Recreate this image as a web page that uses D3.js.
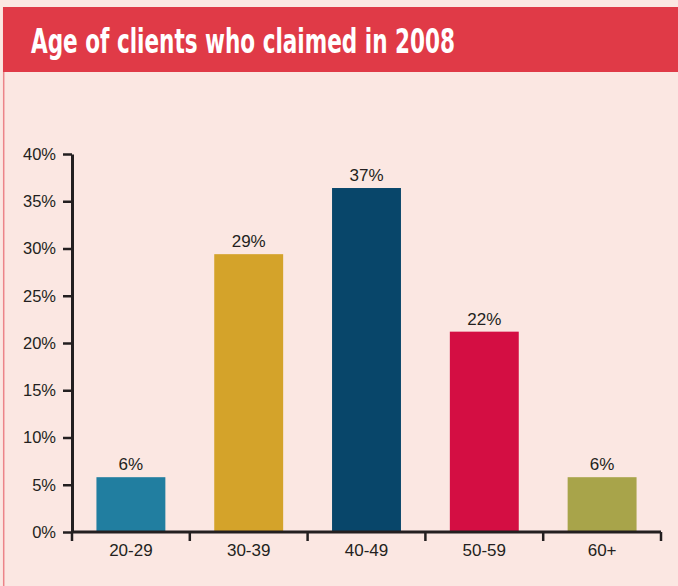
<!DOCTYPE html>
<html>
<head>
<meta charset="utf-8">
<script src="https://cdn.jsdelivr.net/npm/d3@7"></script>
<style>
  html, body { margin: 0; padding: 0; background: #fbe7e2; }
  svg { display: block; }
  .tick text { font-family: "Liberation Sans", Arial, sans-serif; font-size: 16.5px; fill: #231f20; }
</style>
</head>
<body>
<svg width="678" height="586"></svg>
<script>
// chart data
var ageGroups = ['20-29', '30-39', '40-49', '50-59', '60+'];
var shares = [5.8, 29.4, 36.4, 21.2, 5.8];
var shareLabels = ['6%', '29%', '37%', '22%', '6%'];
var barColors = ['#217ea0', '#d4a32a', '#08466a', '#d40e43', '#a8a44a'];
var yTicks = [0, 5, 10, 15, 20, 25, 30, 35, 40];
var title = 'Age of clients who claimed in 2008';

var svg = d3.select('svg');
var svgWidth = +svg.attr('width');
var svgHeight = +svg.attr('height');

// background and title band
svg.append('rect')
    .attr('width', svgWidth)
    .attr('height', svgHeight)
    .attr('fill', '#fbe7e2');
svg.append('line')
    .attr('x1', 3.7).attr('x2', 3.7)
    .attr('y1', 7).attr('y2', svgHeight)
    .attr('stroke', '#ec8489')
    .attr('stroke-width', 1.5);
svg.append('rect')
    .attr('x', 3)
    .attr('y', 7)
    .attr('width', svgWidth - 3)
    .attr('height', 65)
    .attr('fill', '#e03a47');
svg.append('text')
    .attr('x', 31)
    .attr('y', 53)
    .attr('fill', '#ffffff')
    .attr('font-family', '"DejaVu Sans Condensed", "DejaVu Sans", sans-serif')
    .attr('font-stretch', 'condensed')
    .attr('font-weight', 'bold')
    .attr('font-size', 33)
    .attr('textLength', 424)
    .attr('lengthAdjust', 'spacingAndGlyphs')
    .text(title);

var padding = {t: 154, r: 17, b: 54, l: 72};
var chartWidth = svgWidth - padding.l - padding.r;
var chartHeight = svgHeight - padding.t - padding.b;

var chartG = svg.append('g')
    .attr('transform', 'translate(' + [padding.l, padding.t] + ')');

var xScale = d3.scaleBand()
    .domain(ageGroups)
    .range([0, chartWidth])
    .paddingInner(0.415)
    .paddingOuter(0.2075);
var yScale = d3.scaleLinear()
    .domain([0, 40])
    .range([chartHeight, 0]);

// bars
chartG.selectAll('.bar')
    .data(ageGroups)
    .enter()
    .append('rect')
    .attr('class', 'bar')
    .attr('x', d => xScale(d))
    .attr('y', (d, i) => yScale(shares[i]))
    .attr('width', xScale.bandwidth())
    .attr('height', (d, i) => chartHeight - yScale(shares[i]))
    .attr('fill', (d, i) => barColors[i]);

// value labels
chartG.selectAll('.value')
    .data(ageGroups)
    .enter()
    .append('text')
    .attr('class', 'value')
    .attr('x', d => xScale(d) + xScale.bandwidth() / 2)
    .attr('y', (d, i) => yScale(shares[i]) - 7)
    .attr('text-anchor', 'middle')
    .attr('font-family', '"Liberation Sans", Arial, sans-serif')
    .attr('font-size', 17)
    .attr('fill', '#231f20')
    .text((d, i) => shareLabels[i]);

// y axis
var yAxis = d3.axisLeft(yScale)
    .tickValues(yTicks)
    .tickFormat(d => d + '%')
    .tickSize(9)
    .tickSizeOuter(0)
    .tickPadding(7);
var yAxisG = chartG.append('g')
    .attr('class', 'y axis')
    .call(yAxis);

// x axis: ticks sit on band boundaries, labels at band centres
var xEdges = ageGroups.map(d => xScale(d) - xScale.step() * xScale.paddingInner() / 2)
    .concat([chartWidth]);
var xAxisG = chartG.append('g')
    .attr('class', 'x axis')
    .attr('transform', 'translate(0,' + chartHeight + ')');
xAxisG.append('line')
    .attr('x1', 0).attr('x2', chartWidth)
    .attr('stroke', '#231f20')
    .attr('stroke-width', 3);
xAxisG.selectAll('.xtick')
    .data(xEdges)
    .enter()
    .append('line')
    .attr('class', 'xtick')
    .attr('x1', d => d).attr('x2', d => d)
    .attr('y1', 0).attr('y2', 9)
    .attr('stroke', '#231f20')
    .attr('stroke-width', 2.5);
xAxisG.selectAll('.xlabel')
    .data(ageGroups)
    .enter()
    .append('text')
    .attr('class', 'xlabel')
    .attr('x', d => xScale(d) + xScale.bandwidth() / 2)
    .attr('y', 24)
    .attr('text-anchor', 'middle')
    .attr('font-family', '"Liberation Sans", Arial, sans-serif')
    .attr('font-size', 17)
    .attr('fill', '#231f20')
    .text(d => d);

yAxisG.select('.domain')
    .attr('stroke', '#231f20')
    .attr('stroke-width', 3);
yAxisG.selectAll('.tick line')
    .attr('stroke', '#231f20')
    .attr('stroke-width', 2.5);
</script>
</body>
</html>
